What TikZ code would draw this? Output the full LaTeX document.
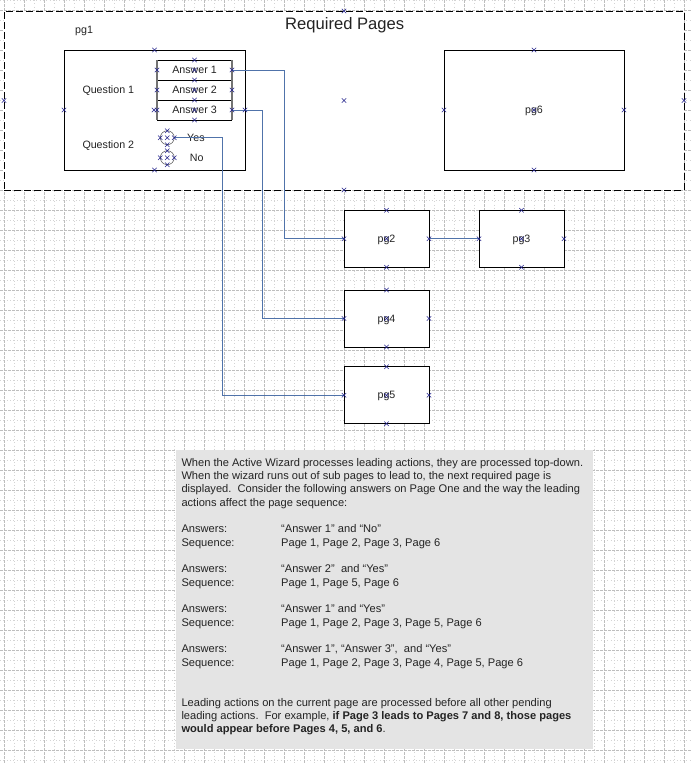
\documentclass[tikz,border=0pt]{standalone}
\usepackage{fontspec}
\setmainfont{Liberation Sans}
\definecolor{gridmaj}{RGB}{190,190,190}
\definecolor{gridmin}{RGB}{212,212,212}
\definecolor{connblue}{RGB}{80,115,170}
\definecolor{mkblue}{RGB}{36,36,140}
\definecolor{notegray}{RGB}{228,228,228}
\definecolor{txt}{RGB}{35,35,35}
\tikzset{
  majgrid/.style={draw=gridmaj, line width=0.6, dash pattern=on 2.5pt off 1.5pt},
  mingrid/.style={draw=gridmin, line width=0.6, dash pattern=on 0.8pt off 2.5pt},
  pagebox/.style={draw=black, fill=white, line width=0.8, outer sep=0pt, inner sep=0pt, text depth=0pt, font=\fontsize{10.67}{12}\selectfont, text=txt},
  rowbox/.style={draw=none, minimum width=75pt, minimum height=20pt, outer sep=0pt, inner sep=0pt, font=\fontsize{10.67}{12}\selectfont, text=txt},
  radio/.style={circle, draw=black!70, line width=0.5, minimum size=14pt, inner sep=0pt, outer sep=0pt},
  lbl/.style={anchor=base west, inner sep=0pt, font=\fontsize{10.67}{12}\selectfont, text=txt},
  notelbl/.style={anchor=base west, inner sep=0pt, font=\fontsize{11.1}{13}\selectfont, text=txt},
  conn/.style={draw=connblue, line width=0.9},
  xmk/.style={draw=mkblue, line width=0.55},
}
\newcommand\xmark[1]{\draw[xmk] (#1) +(-2.2,-2.2) -- +(2.2,2.2) +(-2.2,2.2) -- +(2.2,-2.2);}
\begin{document}
\begin{tikzpicture}[x=1pt,y=-1pt]
\useasboundingbox (0,0) rectangle (692,764);
\fill[white] (0,0) rectangle (692,764);
% grid
\foreach \x in {14,34,...,694} {\draw[mingrid] (\x,0) -- (\x,764);}
\foreach \y in {0,20,...,760} {\draw[mingrid] (0,\y) -- (692,\y);}
\foreach \x in {4,24,...,684} {\draw[majgrid] (\x,0) -- (\x,764);}
\foreach \y in {10,30,...,750} {\draw[majgrid] (0,\y) -- (692,\y);}

% required pages frame
\node[draw=black, fill=white, line width=0.9, dash pattern=on 7pt off 3pt, minimum width=680pt, minimum height=179pt, inner sep=0pt, outer sep=0pt] (frame) at (344,100.5) {};
\node[anchor=base west, inner sep=0pt, font=\fontsize{16.6}{18}\selectfont, text=txt] (title) at (285,29) {Required Pages};

% page 1
\node[lbl] (pg1lbl) at (75,33) {pg1};
\node[pagebox, minimum width=181pt, minimum height=120pt] (pg1) at (154.5,110) {};
\node[lbl] (q1) at (82.3,93.7) {Question 1};
\node[lbl] (q2) at (82.3,148) {Question 2};
\node[rowbox] (ans1) at (194.5,70) {Answer 1};
\node[rowbox] (ans2) at (194.5,90) {Answer 2};
\node[rowbox] (ans3) at (194.5,110) {Answer 3};
\draw[line width=0.8] (ans1.north west) -- (ans1.north east);
\draw[line width=0.8] (ans2.north west) -- (ans2.north east);
\draw[line width=0.8] (ans3.north west) -- (ans3.north east);
\draw[line width=0.8] (ans3.south west) -- (ans3.south east);
\draw[black!55, line width=1.3] (ans1.north west) -- (ans3.south west);
\draw[black!55, line width=1.3] (ans1.north east) -- (ans3.south east);
\node[radio] (yes) at (167.3,137.7) {};
\node[radio] (no) at (167.3,157.7) {};
\node[lbl] (yeslbl) at (187,141.3) {Yes};
\node[lbl] (nolbl) at (189.7,161.3) {No};

% page 6
\node[pagebox, minimum width=180pt, minimum height=120pt] (pg6) at (534,110) {pg6};

% sub pages
\node[pagebox, minimum width=85pt, minimum height=57pt] (pg2) at (386.5,238.7) {pg2};
\node[pagebox, minimum width=85pt, minimum height=57pt] (pg3) at (521.5,238.7) {pg3};
\node[pagebox, minimum width=85pt, minimum height=57pt] (pg4) at (386.5,318.5) {pg4};
\node[pagebox, minimum width=85pt, minimum height=57pt] (pg5) at (386.5,395.3) {pg5};

% connectors
\draw[conn] (ans1.east) -- ++(52.3,0) |- (pg2.west);
\draw[conn] (ans3.east) -- ++(30.7,0) |- (pg4.west);
\draw[conn] (yes.east) -- ++(48.6,0) |- (pg5.west);
\draw[conn] (pg2.east) -- (pg3.west);

% connection point markers
\foreach \n in {frame,pg6,pg2,pg3,pg4,pg5,yes,no} {
  \foreach \a in {north,south,east,west,center} {
    \xmark{\n.\a}
  }
}
\foreach \a in {north,south,east,west} {\xmark{pg1.\a}}
\foreach \n in {ans1,ans2,ans3} {
  \foreach \a in {south,east,west,center} {
    \xmark{\n.\a}
  }
}
\xmark{ans1.north}
\draw[xmk] (ans3.west) ++(-3,0) +(-2.2,-2.2) -- +(2.2,2.2) +(-2.2,2.2) -- +(2.2,-2.2);

% note
\node[fill=notegray, minimum width=417pt, minimum height=299pt, inner sep=0pt, outer sep=0pt] (note) at (384.5,599.5) {};
\begin{scope}[every node/.style={notelbl}]
\node (l1) at (181.3,466) {When the Active Wizard processes leading actions, they are processed top-down.};
\node (l2) at (181.3,479.33) {When the wizard runs out of sub pages to lead to, the next required page is};
\node (l3) at (181.3,492.67) {displayed.\ \ Consider the following answers on Page One and the way the leading};
\node (l4) at (181.3,506) {actions affect the page sequence:};
\node (a1) at (181.3,532.67) {Answers:};
\node (a1v) at (281,532.67) {“Answer 1” and “No”};
\node (s1) at (181.3,546) {Sequence:};
\node (s1v) at (281,546) {Page 1, Page 2, Page 3, Page 6};
\node (a2) at (181.3,572.67) {Answers:};
\node (a2v) at (281,572.67) {“Answer 2”\ \ and “Yes”};
\node (s2) at (181.3,586) {Sequence:};
\node (s2v) at (281,586) {Page 1, Page 5, Page 6};
\node (a3) at (181.3,612.67) {Answers:};
\node (a3v) at (281,612.67) {“Answer 1” and “Yes”};
\node (s3) at (181.3,626) {Sequence:};
\node (s3v) at (281,626) {Page 1, Page 2, Page 3, Page 5, Page 6};
\node (a4) at (181.3,652.67) {Answers:};
\node (a4v) at (281,652.67) {“Answer 1”, “Answer 3”,\ \ and “Yes”};
\node (s4) at (181.3,666) {Sequence:};
\node (s4v) at (281,666) {Page 1, Page 2, Page 3, Page 4, Page 5, Page 6};
\node (l19) at (181.3,706) {Leading actions on the current page are processed before all other pending};
\node (l20) at (181.3,719.33) {leading actions.\ \ For example, \textbf{if Page 3 leads to Pages 7 and 8, those pages}};
\node (l21) at (181.3,732.67) {\textbf{would appear before Pages 4, 5, and 6}.};
\end{scope}
\end{tikzpicture}
\end{document}
